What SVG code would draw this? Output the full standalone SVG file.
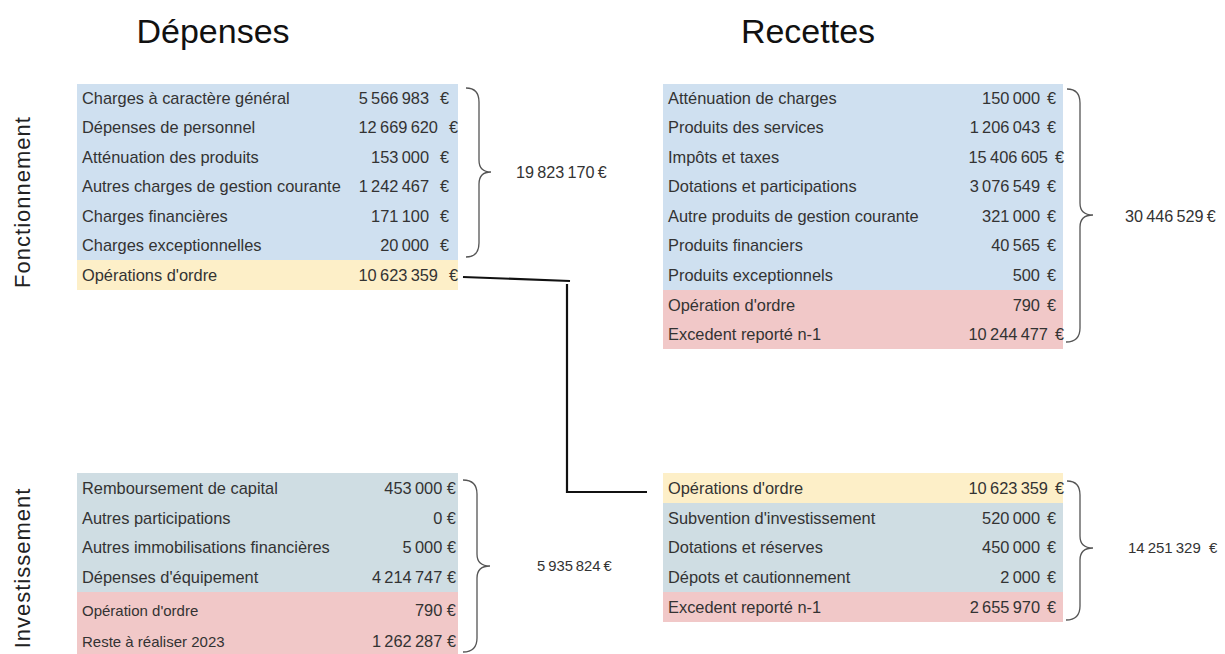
<svg xmlns="http://www.w3.org/2000/svg" width="1225" height="654" viewBox="0 0 1225 654">
  <style>
    text { font-family: "Liberation Sans", Arial, sans-serif; fill: #333; }
    .title { font-size: 34px; fill: #111; text-anchor: middle; }
    .side { font-size: 22px; fill: #222; text-anchor: middle; letter-spacing: 1px; }
    .lbl { font-size: 16.4px; }
    .sm { font-size: 15px; }
    .num { font-size: 16.4px; text-anchor: end; }
    .eur { font-size: 16.4px; }
    .tot { font-size: 16.2px; fill: #333; }
    .blue { fill: #cfe0f0; }
    .grey { fill: #cfdde3; }
    .yellow { fill: #fdefc8; }
    .pink { fill: #f1c8c8; }
    .brace { fill: none; stroke: #555; stroke-width: 1.3; }
    .link { fill: none; stroke: #111; stroke-width: 2.2; }
  </style>

  <!-- headings -->
  <text class="title" x="213" y="43">Dépenses</text>
  <text class="title" x="808" y="43">Recettes</text>
  <text class="side" transform="translate(30,202) rotate(-90)">Fonctionnement</text>
  <text class="side" transform="translate(30,568) rotate(-90)">Investissement</text>

  <!-- Dépenses de fonctionnement -->
  <g id="dep-fonct">
    <rect class="blue" x="77" y="84" width="381" height="176"/>
    <rect class="yellow" x="77" y="260" width="381" height="30"/>
    <text class="lbl" x="82" y="104">Charges à caractère général</text>
    <text class="lbl" x="82" y="133">Dépenses de personnel</text>
    <text class="lbl" x="82" y="163">Atténuation des produits</text>
    <text class="lbl" x="82" y="192">Autres charges de gestion courante</text>
    <text class="lbl" x="82" y="222">Charges financières</text>
    <text class="lbl" x="82" y="251">Charges exceptionnelles</text>
    <text class="lbl" x="82" y="281">Opérations d'ordre</text>
    <text class="num" x="429" y="104">5&#8201;566&#8201;983</text><text class="eur" x="440" y="104">€</text>
    <text class="num" x="438" y="133">12&#8201;669&#8201;620</text><text class="eur" x="449" y="133">€</text>
    <text class="num" x="429" y="163">153&#8201;000</text><text class="eur" x="440" y="163">€</text>
    <text class="num" x="429" y="192">1&#8201;242&#8201;467</text><text class="eur" x="440" y="192">€</text>
    <text class="num" x="429" y="222">171&#8201;100</text><text class="eur" x="440" y="222">€</text>
    <text class="num" x="429" y="251">20&#8201;000</text><text class="eur" x="440" y="251">€</text>
    <text class="num" x="438" y="281">10&#8201;623&#8201;359</text><text class="eur" x="449" y="281">€</text>
    <path class="brace" d="M466,88 Q479,88 479,102 L479,160 Q479,172 491,172 Q479,172 479,184 L479,243 Q479,257 466,257"/>
    <text class="tot" x="516" y="178">19&#8201;823&#8201;170&#8201;€</text>
  </g>

  <!-- Recettes de fonctionnement -->
  <g id="rec-fonct">
    <rect class="blue" x="663" y="84" width="400" height="206"/>
    <rect class="pink" x="663" y="290" width="400" height="59"/>
    <text class="lbl" x="668" y="104">Atténuation de charges</text>
    <text class="lbl" x="668" y="133">Produits des services</text>
    <text class="lbl" x="668" y="163">Impôts et taxes</text>
    <text class="lbl" x="668" y="192">Dotations et participations</text>
    <text class="lbl" x="668" y="222">Autre produits de gestion courante</text>
    <text class="lbl" x="668" y="251">Produits financiers</text>
    <text class="lbl" x="668" y="281">Produits exceptionnels</text>
    <text class="lbl" x="668" y="311">Opération d'ordre</text>
    <text class="lbl" x="668" y="340">Excedent reporté n-1</text>
    <text class="num" x="1040" y="104">150&#8201;000</text><text class="eur" x="1047" y="104">€</text>
    <text class="num" x="1040" y="133">1&#8201;206&#8201;043</text><text class="eur" x="1047" y="133">€</text>
    <text class="num" x="1048" y="163">15&#8201;406&#8201;605</text><text class="eur" x="1055" y="163">€</text>
    <text class="num" x="1040" y="192">3&#8201;076&#8201;549</text><text class="eur" x="1047" y="192">€</text>
    <text class="num" x="1040" y="222">321&#8201;000</text><text class="eur" x="1047" y="222">€</text>
    <text class="num" x="1040" y="251">40&#8201;565</text><text class="eur" x="1047" y="251">€</text>
    <text class="num" x="1040" y="281">500</text><text class="eur" x="1047" y="281">€</text>
    <text class="num" x="1040" y="311">790</text><text class="eur" x="1047" y="311">€</text>
    <text class="num" x="1048" y="340">10&#8201;244&#8201;477</text><text class="eur" x="1055" y="340">€</text>
    <path class="brace" d="M1067,89 Q1080,89 1080,103 L1080,203 Q1080,215 1093,215 Q1080,215 1080,227 L1080,328 Q1080,342 1066,342"/>
    <text class="tot" x="1125" y="222">30&#8201;446&#8201;529&#8201;€</text>
  </g>

  <!-- Dépenses d'investissement -->
  <g id="dep-invest">
    <rect class="grey" x="77" y="473" width="381" height="119"/>
    <rect class="pink" x="77" y="592" width="381" height="62"/>
    <text class="lbl" x="82" y="494">Remboursement de capital</text>
    <text class="lbl" x="82" y="524">Autres participations</text>
    <text class="lbl" x="82" y="553">Autres immobilisations financières</text>
    <text class="lbl" x="82" y="583">Dépenses d'équipement</text>
    <text class="sm" x="82" y="616">Opération d'ordre</text>
    <text class="sm" x="82" y="647">Reste à réaliser 2023</text>
    <text class="num" x="456" y="494">453&#8201;000 €</text>
    <text class="num" x="456" y="524">0 €</text>
    <text class="num" x="456" y="553">5&#8201;000 €</text>
    <text class="num" x="456" y="583">4&#8201;214&#8201;747 €</text>
    <text class="num" x="456" y="616">790 €</text>
    <text class="num" x="456" y="647">1&#8201;262&#8201;287 €</text>
    <path class="brace" d="M463,480 Q477,480 477,494 L477,554 Q477,566 490,566 Q477,566 477,578 L477,638 Q477,652 463,652"/>
    <text class="tot" x="537" y="571" style="font-size:14.8px">5&#8201;935&#8201;824&#8201;€</text>
  </g>

  <!-- Recettes d'investissement -->
  <g id="rec-invest">
    <rect class="yellow" x="663" y="473" width="400" height="30"/>
    <rect class="grey" x="663" y="503" width="400" height="89"/>
    <rect class="pink" x="663" y="592" width="400" height="30"/>
    <text class="lbl" x="668" y="494">Opérations d'ordre</text>
    <text class="lbl" x="668" y="524">Subvention d'investissement</text>
    <text class="lbl" x="668" y="553">Dotations et réserves</text>
    <text class="lbl" x="668" y="583">Dépots et cautionnement</text>
    <text class="lbl" x="668" y="613">Excedent reporté n-1</text>
    <text class="num" x="1048" y="494">10&#8201;623&#8201;359</text><text class="eur" x="1055" y="494">€</text>
    <text class="num" x="1040" y="524">520&#8201;000</text><text class="eur" x="1047" y="524">€</text>
    <text class="num" x="1040" y="553">450&#8201;000</text><text class="eur" x="1047" y="553">€</text>
    <text class="num" x="1040" y="583">2&#8201;000</text><text class="eur" x="1047" y="583">€</text>
    <text class="num" x="1040" y="613">2&#8201;655&#8201;970</text><text class="eur" x="1047" y="613">€</text>
    <path class="brace" d="M1067,481 Q1080,481 1080,495 L1080,536 Q1080,548 1093,548 Q1080,548 1080,560 L1080,606 Q1080,620 1066,620"/>
    <text class="tot" x="1128" y="553" style="font-size:15px">14&#8201;251&#8201;329 &#160;€</text>
  </g>

  <!-- transfer line between the two "Opérations d'ordre" rows -->
  <g id="connectors">
    <path class="link" d="M463,277 L570,281"/>
    <path class="link" d="M567,284 V492 H647"/>
  </g>
</svg>
